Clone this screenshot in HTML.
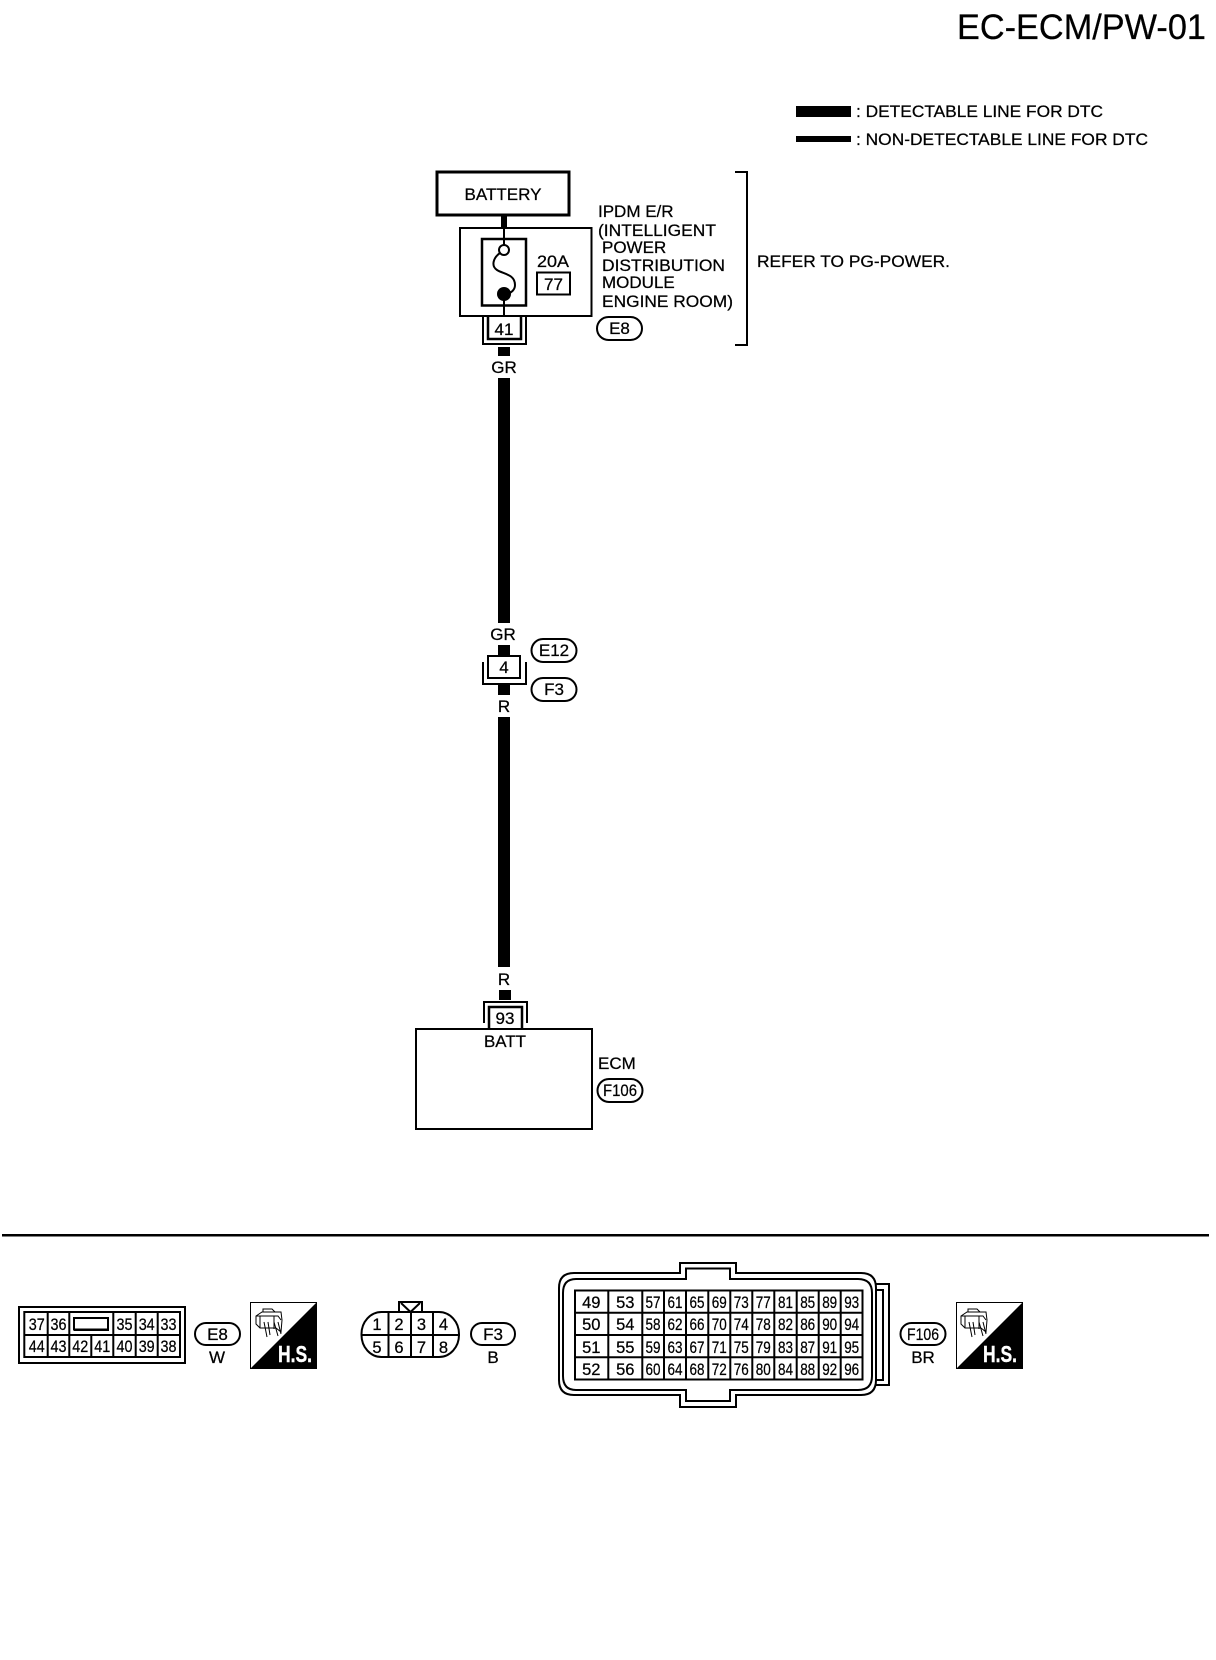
<!DOCTYPE html>
<html lang="en">
<head>
<meta charset="utf-8">
<title>EC-ECM/PW-01</title>
<style>
html,body{margin:0;padding:0;background:#fff;width:1216px;height:1660px;overflow:hidden}
svg{display:block}
text{font-family:"Liberation Sans",sans-serif;font-size:17px;fill:#000;stroke:#000;stroke-width:.25}
.m{text-anchor:middle}
.n{font-size:16.5px;text-anchor:middle}
.s{fill:none;stroke:#000;stroke-width:2}
.w{fill:#fff;stroke:#000;stroke-width:2}
.w3{fill:#fff;stroke:#000;stroke-width:3}
.t{fill:none;stroke:#000;stroke-width:1}
.hs{font-size:23px;font-weight:bold;fill:#fff;stroke:#fff;stroke-width:.4}
</style>
</head>
<body>
<svg xmlns="http://www.w3.org/2000/svg" width="1216" height="1660" viewBox="0 0 1216 1660">
<rect width="1216" height="1660" fill="#fff"/>

<!-- title and legend -->
<text x="957" y="39" style="font-size:35.500px" textLength="249" lengthAdjust="spacingAndGlyphs">EC-ECM/PW-01</text>
<rect x="796" y="106" width="55" height="11" fill="#000"/>
<rect x="796" y="136" width="55" height="6" fill="#000"/>
<text x="856" y="117" textLength="247" lengthAdjust="spacingAndGlyphs">: DETECTABLE LINE FOR DTC</text>
<text x="856" y="145" textLength="292" lengthAdjust="spacingAndGlyphs">: NON-DETECTABLE LINE FOR DTC</text>

<!-- battery -->
<rect x="437" y="172" width="132" height="43" class="w3"/>
<text x="503" y="200" class="m" textLength="77" lengthAdjust="spacingAndGlyphs">BATTERY</text>
<rect x="501" y="216" width="6" height="12" fill="#000"/>

<!-- IPDM -->
<rect x="460" y="228" width="131.500" height="88" class="w"/>
<rect x="482" y="239" width="44" height="66.500" class="w3" style="stroke-width:2.500"/>
<path d="M504 227V245M504 294V318" class="s"/>
<circle cx="504" cy="250" r="5" class="w"/>
<path d="M500 253C493 258 491 266 497 270C503 274 515 274 515 285C515 290 511 293 507 294" class="s"/>
<circle cx="504" cy="294" r="7" fill="#000"/>
<text x="553" y="267" class="m" textLength="32" lengthAdjust="spacingAndGlyphs">20A</text>
<rect x="537" y="272.500" width="33" height="22" class="w"/>
<text x="553.500" y="290" class="m">77</text>

<text x="598" y="217">IPDM E/R</text>
<text x="598" y="236" textLength="118" lengthAdjust="spacingAndGlyphs">(INTELLIGENT</text>
<text x="602" y="253">POWER</text>
<text x="602" y="271" textLength="123" lengthAdjust="spacingAndGlyphs">DISTRIBUTION</text>
<text x="602" y="288">MODULE</text>
<text x="602" y="307" textLength="131" lengthAdjust="spacingAndGlyphs">ENGINE ROOM)</text>
<rect x="597" y="317" width="45" height="23" rx="11.500" class="w"/>
<text x="619.500" y="334" class="m">E8</text>
<path d="M735 172H747V345H735" class="s"/>
<text x="757" y="267" textLength="193" lengthAdjust="spacingAndGlyphs">REFER TO PG-POWER.</text>

<!-- connector 41 -->
<path d="M483 317V344H526V317" class="s"/>
<path d="M488 317V339H521V317" class="w" style="stroke-width:2.500"/>
<text x="504" y="335" class="m">41</text>
<rect x="498" y="347" width="12" height="9" fill="#000"/>
<text x="504" y="373" class="m">GR</text>
<rect x="498" y="378" width="12" height="245" fill="#000"/>

<!-- connector 4 -->
<text x="503" y="640" class="m">GR</text>
<rect x="498" y="645" width="12" height="50" fill="#000"/>
<path d="M483 662V684H526V662" class="w"/>
<rect x="488" y="656" width="32" height="22" class="w"/>
<text x="504" y="673" class="m">4</text>
<rect x="498" y="686" width="12" height="9" fill="#000"/>
<text x="504" y="712" class="m">R</text>
<rect x="498" y="717" width="12" height="250" fill="#000"/>
<rect x="531.500" y="639" width="45" height="23" rx="11.500" class="w"/>
<text x="554" y="656" class="m">E12</text>
<rect x="531.500" y="678" width="45" height="23" rx="11.500" class="w"/>
<text x="554" y="695" class="m">F3</text>

<!-- ECM -->
<text x="504" y="985" class="m">R</text>
<rect x="499" y="990" width="12" height="10" fill="#000"/>
<path d="M484 1023V1002H527V1023" class="s"/>
<path d="M489 1029V1007H522V1029" class="w" style="stroke-width:2.500"/>
<text x="505" y="1024" class="m">93</text>
<rect x="416" y="1029" width="176" height="100" class="w"/>
<text x="505" y="1047" class="m" textLength="42" lengthAdjust="spacingAndGlyphs">BATT</text>
<text x="598" y="1069">ECM</text>
<rect x="597.500" y="1079" width="45" height="23" rx="11.500" class="w"/>
<text x="620" y="1096" class="m" textLength="34" lengthAdjust="spacingAndGlyphs">F106</text>

<!-- separator -->
<rect x="2" y="1234" width="1207" height="2.500" fill="#000"/>

<!-- E8 connector -->
<rect x="19" y="1307" width="166" height="56" class="w"/>
<rect x="24.300" y="1312" width="155.700" height="45" class="w"/>
<path d="M24 1335H180M47.700 1312V1357M69.300 1312V1357M91.300 1335V1357M113.300 1312V1357M135.700 1312V1357M157.700 1312V1357" class="s"/>
<rect x="74" y="1318" width="34" height="11.500" class="w"/>
<path d="M74 1330H108V1318" class="s"/>
<text class="n" x="36.800" y="1330" textLength="16" lengthAdjust="spacingAndGlyphs">37</text>
<text class="n" x="58.500" y="1330" textLength="16" lengthAdjust="spacingAndGlyphs">36</text>
<text class="n" x="124.500" y="1330" textLength="16" lengthAdjust="spacingAndGlyphs">35</text>
<text class="n" x="146.700" y="1330" textLength="16" lengthAdjust="spacingAndGlyphs">34</text>
<text class="n" x="168.500" y="1330" textLength="16" lengthAdjust="spacingAndGlyphs">33</text>
<text class="n" x="36.800" y="1352" textLength="16" lengthAdjust="spacingAndGlyphs">44</text>
<text class="n" x="58.500" y="1352" textLength="16" lengthAdjust="spacingAndGlyphs">43</text>
<text class="n" x="80.300" y="1352" textLength="16" lengthAdjust="spacingAndGlyphs">42</text>
<text class="n" x="102.300" y="1352" textLength="16" lengthAdjust="spacingAndGlyphs">41</text>
<text class="n" x="124.500" y="1352" textLength="16" lengthAdjust="spacingAndGlyphs">40</text>
<text class="n" x="146.700" y="1352" textLength="16" lengthAdjust="spacingAndGlyphs">39</text>
<text class="n" x="168.500" y="1352" textLength="16" lengthAdjust="spacingAndGlyphs">38</text>
<rect x="195" y="1323" width="45" height="22" rx="11" class="w"/>
<text x="217.500" y="1340" class="m">E8</text>
<text x="217" y="1363" class="m">W</text>

<!-- HS icon 1 -->
<rect x="250.500" y="1302.500" width="66" height="66" class="w" style="stroke-width:1"/>
<path d="M317 1302V1369H250Z" fill="#000"/>
<text x="278" y="1362" class="hs" textLength="34" lengthAdjust="spacingAndGlyphs">H.S.</text>
<path d="M256 1316L262 1312H281L282 1320L281 1332L276 1328H260L256 1324ZM256 1316H278L281 1320M263 1312V1309H272L275 1312M260 1316V1328M274 1316V1329M264 1322L267 1337M268 1322L270 1335M274 1322L278 1336M278 1322L281 1334" class="t"/>

<!-- F3 connector -->
<rect x="399" y="1302" width="23" height="12" class="w"/>
<path d="M401 1303L410.500 1312L420 1303" fill="#fff" stroke="#000" stroke-width="2"/>
<rect x="361.500" y="1312" width="97.500" height="45" rx="20" ry="22" class="w"/>
<path d="M361 1335H460M388.500 1312V1357M411 1312V1357M433 1312V1357" class="s"/>
<text class="n" x="377" y="1330">1</text>
<text class="n" x="399" y="1330">2</text>
<text class="n" x="421.500" y="1330">3</text>
<text class="n" x="443.500" y="1330">4</text>
<text class="n" x="377" y="1353">5</text>
<text class="n" x="399" y="1353">6</text>
<text class="n" x="421.500" y="1353">7</text>
<text class="n" x="443.500" y="1353">8</text>
<rect x="471" y="1323" width="44" height="22" rx="11" class="w"/>
<text x="493" y="1340" class="m">F3</text>
<text x="493" y="1363" class="m">B</text>

<!-- F106 connector -->
<path d="M873 1284H889V1385H873" class="s"/>
<path d="M873 1290H883V1380H873" class="s"/>
<path d="M574 1273H680V1263H736V1273H861Q876 1273 876 1288V1380Q876 1395 861 1395H736V1407H680V1395H574Q559 1395 559 1380V1288Q559 1273 574 1273Z" class="w"/>
<path d="M576 1279H686V1268.500H730V1279H858Q872 1279 872 1293V1376Q872 1390 858 1390H730V1401H686V1390H576Q563 1390 563 1376V1293Q563 1279 576 1279Z" class="w"/>
<rect x="575" y="1290.500" width="287.500" height="89" class="w"/>
<path d="M575 1312.700H862M575 1335H862M575 1357.300H862M608.300 1291V1380M642.300 1291V1380M664 1291V1380M686 1291V1380M708.300 1291V1380M730.300 1291V1380M752.300 1291V1380M774.300 1291V1380M796.700 1291V1380M818.700 1291V1380M840.700 1291V1380" class="s"/>

<text class="n" x="591.300" y="1308">49</text><text class="n" x="625.300" y="1308">53</text>
<text class="n" x="591.300" y="1330">50</text><text class="n" x="625.300" y="1330">54</text>
<text class="n" x="591.300" y="1353">51</text><text class="n" x="625.300" y="1353">55</text>
<text class="n" x="591.300" y="1375">52</text><text class="n" x="625.300" y="1375">56</text>

<text class="n" x="653" y="1308" textLength="15" lengthAdjust="spacingAndGlyphs">57</text><text class="n" x="675" y="1308" textLength="15" lengthAdjust="spacingAndGlyphs">61</text><text class="n" x="697" y="1308" textLength="15" lengthAdjust="spacingAndGlyphs">65</text><text class="n" x="719.300" y="1308" textLength="15" lengthAdjust="spacingAndGlyphs">69</text><text class="n" x="741.300" y="1308" textLength="15" lengthAdjust="spacingAndGlyphs">73</text><text class="n" x="763.300" y="1308" textLength="15" lengthAdjust="spacingAndGlyphs">77</text><text class="n" x="785.500" y="1308" textLength="15" lengthAdjust="spacingAndGlyphs">81</text><text class="n" x="807.700" y="1308" textLength="15" lengthAdjust="spacingAndGlyphs">85</text><text class="n" x="829.700" y="1308" textLength="15" lengthAdjust="spacingAndGlyphs">89</text><text class="n" x="851.700" y="1308" textLength="15" lengthAdjust="spacingAndGlyphs">93</text>

<text class="n" x="653" y="1330" textLength="15" lengthAdjust="spacingAndGlyphs">58</text><text class="n" x="675" y="1330" textLength="15" lengthAdjust="spacingAndGlyphs">62</text><text class="n" x="697" y="1330" textLength="15" lengthAdjust="spacingAndGlyphs">66</text><text class="n" x="719.300" y="1330" textLength="15" lengthAdjust="spacingAndGlyphs">70</text><text class="n" x="741.300" y="1330" textLength="15" lengthAdjust="spacingAndGlyphs">74</text><text class="n" x="763.300" y="1330" textLength="15" lengthAdjust="spacingAndGlyphs">78</text><text class="n" x="785.500" y="1330" textLength="15" lengthAdjust="spacingAndGlyphs">82</text><text class="n" x="807.700" y="1330" textLength="15" lengthAdjust="spacingAndGlyphs">86</text><text class="n" x="829.700" y="1330" textLength="15" lengthAdjust="spacingAndGlyphs">90</text><text class="n" x="851.700" y="1330" textLength="15" lengthAdjust="spacingAndGlyphs">94</text>

<text class="n" x="653" y="1353" textLength="15" lengthAdjust="spacingAndGlyphs">59</text><text class="n" x="675" y="1353" textLength="15" lengthAdjust="spacingAndGlyphs">63</text><text class="n" x="697" y="1353" textLength="15" lengthAdjust="spacingAndGlyphs">67</text><text class="n" x="719.300" y="1353" textLength="15" lengthAdjust="spacingAndGlyphs">71</text><text class="n" x="741.300" y="1353" textLength="15" lengthAdjust="spacingAndGlyphs">75</text><text class="n" x="763.300" y="1353" textLength="15" lengthAdjust="spacingAndGlyphs">79</text><text class="n" x="785.500" y="1353" textLength="15" lengthAdjust="spacingAndGlyphs">83</text><text class="n" x="807.700" y="1353" textLength="15" lengthAdjust="spacingAndGlyphs">87</text><text class="n" x="829.700" y="1353" textLength="15" lengthAdjust="spacingAndGlyphs">91</text><text class="n" x="851.700" y="1353" textLength="15" lengthAdjust="spacingAndGlyphs">95</text>

<text class="n" x="653" y="1375" textLength="15" lengthAdjust="spacingAndGlyphs">60</text><text class="n" x="675" y="1375" textLength="15" lengthAdjust="spacingAndGlyphs">64</text><text class="n" x="697" y="1375" textLength="15" lengthAdjust="spacingAndGlyphs">68</text><text class="n" x="719.300" y="1375" textLength="15" lengthAdjust="spacingAndGlyphs">72</text><text class="n" x="741.300" y="1375" textLength="15" lengthAdjust="spacingAndGlyphs">76</text><text class="n" x="763.300" y="1375" textLength="15" lengthAdjust="spacingAndGlyphs">80</text><text class="n" x="785.500" y="1375" textLength="15" lengthAdjust="spacingAndGlyphs">84</text><text class="n" x="807.700" y="1375" textLength="15" lengthAdjust="spacingAndGlyphs">88</text><text class="n" x="829.700" y="1375" textLength="15" lengthAdjust="spacingAndGlyphs">92</text><text class="n" x="851.700" y="1375" textLength="15" lengthAdjust="spacingAndGlyphs">96</text>

<rect x="900.500" y="1323" width="45" height="22" rx="11" class="w"/>
<text x="923" y="1340" class="m" textLength="32" lengthAdjust="spacingAndGlyphs">F106</text>
<text x="923" y="1363" class="m">BR</text>

<!-- HS icon 2 -->
<rect x="956.500" y="1302.500" width="66" height="66" class="w" style="stroke-width:1"/>
<path d="M1023 1302V1369H956Z" fill="#000"/>
<text x="983" y="1362" class="hs" textLength="34" lengthAdjust="spacingAndGlyphs">H.S.</text>
<path d="M961 1316L967 1312H986L987 1320L986 1332L981 1328H965L961 1324ZM961 1316H983L986 1320M968 1312V1309H977L980 1312M965 1316V1328M979 1316V1329M969 1322L972 1337M973 1322L975 1335M979 1322L983 1336M983 1322L986 1334" class="t"/>
</svg>
</body>
</html>
